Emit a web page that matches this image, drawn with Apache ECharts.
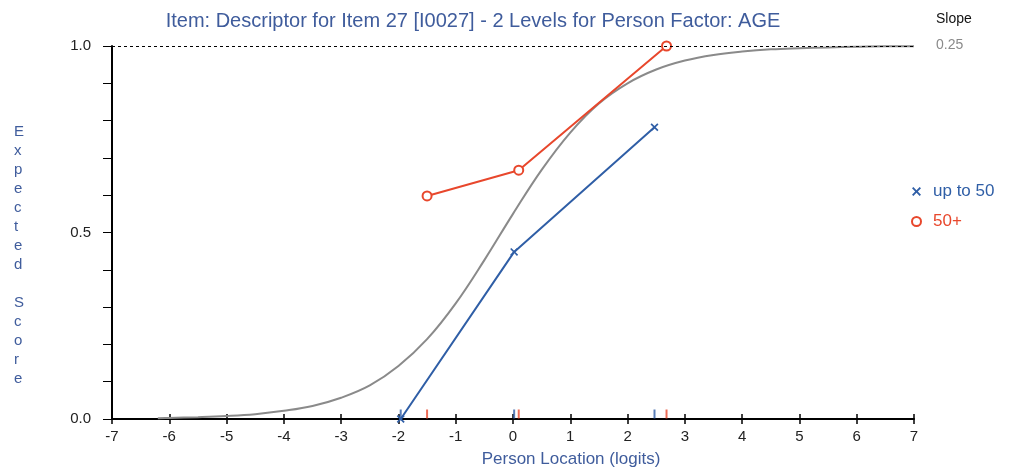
<!DOCTYPE html>
<html>
<head>
<meta charset="utf-8">
<script src="https://cdn.jsdelivr.net/npm/echarts@6/dist/echarts.min.js"></script>
<style>html,body{margin:0;padding:0;background:#fff}#c{width:1018px;height:473px}</style>
</head>
<body>
<div id="c"></div>
<script>
// Gray expected-score curve
var curveX = [-6.2, -6, -5.5, -5, -4.5, -4, -3.5, -3, -2.5, -2, -1.5, -1, -0.5, 0, 0.5, 1, 1.5, 2, 2.5, 3, 3.5, 4, 4.5, 5, 5.5, 6, 6.5, 7];
var curveY = [0.002, 0.003, 0.005, 0.008, 0.013, 0.022, 0.035, 0.057, 0.09, 0.142, 0.214, 0.31, 0.426, 0.55, 0.668, 0.768, 0.846, 0.90, 0.937, 0.961, 0.976, 0.985, 0.991, 0.994, 0.996, 0.998, 0.999, 0.999];
// Observed class means
var youngX = [-1.96, 0.02, 2.47];
var youngY = [0.0, 0.448, 0.782];
var olderX = [-1.5, 0.1, 2.68];
var olderY = [0.598, 0.667, 1.0];
var seriesNames = ['up to 50', '50+'];
var xTicks = [-7, -6, -5, -4, -3, -2, -1, 0, 1, 2, 3, 4, 5, 6, 7];
var yLabels = ['0.0', '0.5', '1.0'];
var slopeValue = '0.25';

var BLUE = '#2f5ea6', RED = '#e8472c', GRAY = '#8a8a8a', TITLE = '#3f5c9c';
var FONT = 'Liberation Sans, Arial, sans-serif';
var crossPath = 'path://M0,1.5L1.5,0L5,3.5L8.5,0L10,1.5L6.5,5L10,8.5L8.5,10L5,6.5L1.5,10L0,8.5L3.5,5Z';

function zip(a, b) { return a.map(function (v, i) { return [v, b[i]]; }); }

var chart = echarts.init(document.getElementById('c'), null, {renderer: 'canvas'});
var axisCommon = {
  type: 'value', min: -7, max: 7, interval: 1
};
chart.setOption({
  animation: false,
  backgroundColor: '#fff',
  title: {
    text: 'Item: Descriptor for Item 27 [I0027] - 2 Levels for Person Factor: AGE',
    left: 468, top: 6, textAlign: 'center',
    textStyle: {color: TITLE, fontFamily: FONT, fontSize: 20, fontWeight: 'normal'}
  },
  legend: {
    orient: 'vertical', left: 906, top: 178, itemGap: 13, itemWidth: 9, itemHeight: 9,
    textStyle: {fontFamily: FONT, fontSize: 17, padding: [0, 0, 0, 7]},
    data: [
      {name: seriesNames[0], icon: crossPath, itemStyle: {color: BLUE}, textStyle: {color: BLUE}},
      {name: seriesNames[1], icon: 'circle', itemStyle: {color: '#fff', borderColor: RED, borderWidth: 2}, textStyle: {color: RED}}
    ]
  },
  grid: {left: 112, right: 104, top: 46, bottom: 54},
  xAxis: [
    Object.assign({}, axisCommon, {
      name: 'Person Location (logits)', nameLocation: 'middle', nameGap: 32,
      nameTextStyle: {color: TITLE, fontFamily: FONT, fontSize: 17, padding: [0, 0, 0, 116]},
      axisLine: {show: true, onZero: false, lineStyle: {color: '#000', width: 2}},
      axisTick: {show: true, length: 5, lineStyle: {color: '#000', width: 1.5}},
      axisLabel: {color: '#222', fontFamily: FONT, fontSize: 15, margin: 10, customValues: xTicks},
      splitLine: {show: false}
    }),
    Object.assign({}, axisCommon, {
      position: 'bottom',
      axisLine: {show: false},
      axisTick: {show: true, inside: true, length: 5, lineStyle: {color: '#000', width: 1.5}},
      axisLabel: {show: false},
      splitLine: {show: false}
    })
  ],
  yAxis: {
    type: 'value', min: 0, max: 1, interval: 0.1,
    axisLine: {show: true, onZero: false, lineStyle: {color: '#000', width: 2}},
    axisTick: {show: true, length: 9, lineStyle: {color: '#000', width: 1}},
    axisLabel: {
      color: '#222', fontFamily: FONT, fontSize: 15, margin: 21,
      formatter: function (v) {
        var s = v.toFixed(1);
        return yLabels.indexOf(s) >= 0 ? s : '';
      }
    },
    splitLine: {show: false}
  },
  graphic: [
    {type: 'text', left: 14, top: 122, style: {
      text: 'Expected Score'.split('').join('\n'),
      fill: TITLE, font: '15px ' + FONT, lineHeight: 19, align: 'center'
    }},
    {type: 'text', left: 936, top: 12, style: {text: 'Slope', fill: '#111', font: '14px ' + FONT}},
    {type: 'text', left: 936, top: 38, style: {text: slopeValue, fill: GRAY, font: '14px ' + FONT}}
  ],
  series: [
    {
      name: 'ICC', type: 'line', data: zip(curveX, curveY), smooth: 0.4, showSymbol: false, silent: true,
      lineStyle: {color: GRAY, width: 2}, z: 2,
      markLine: {
        silent: true, symbol: 'none', label: {show: false},
        lineStyle: {color: '#000', type: [3, 3], width: 1},
        data: [{yAxis: 1}]
      }
    },
    {
      name: seriesNames[0], type: 'line', data: zip(youngX, youngY), symbol: crossPath, symbolSize: 8,
      itemStyle: {color: BLUE}, lineStyle: {color: BLUE, width: 2}, z: 4
    },
    {
      name: seriesNames[1], type: 'line', data: zip(olderX, olderY), symbol: 'emptyCircle', symbolSize: 9,
      itemStyle: {color: RED, borderWidth: 2}, lineStyle: {color: RED, width: 2}, z: 4
    },
    {
      name: 'youngTicks', type: 'scatter', silent: true, data: youngX.map(function (x) { return [x, 0]; }),
      symbol: 'rect', symbolSize: [2, 9], symbolOffset: [0, -5], itemStyle: {color: BLUE}, z: 5
    },
    {
      name: 'olderTicks', type: 'scatter', silent: true, data: olderX.map(function (x) { return [x, 0]; }),
      symbol: 'rect', symbolSize: [2, 9], symbolOffset: [0, -5], itemStyle: {color: RED}, z: 5
    }
  ]
});
</script>
</body>
</html>
